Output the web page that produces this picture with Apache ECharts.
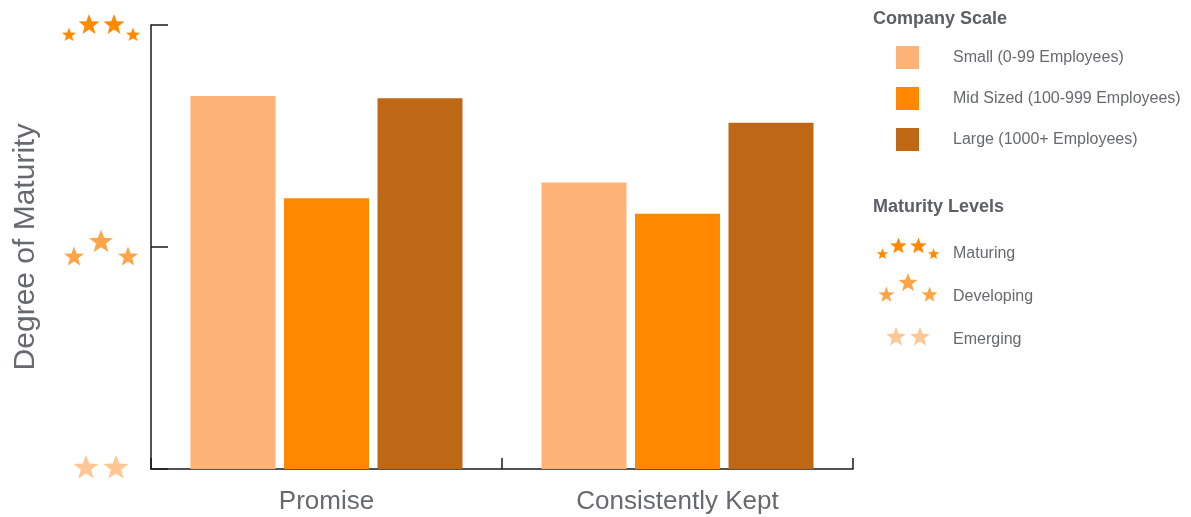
<!DOCTYPE html>
<html>
<head>
<meta charset="utf-8">
<style>
  html, body { margin: 0; padding: 0; background: #ffffff; }
  #chart { width: 1191px; height: 517px; }
</style>
<script src="https://cdn.jsdelivr.net/npm/echarts@6/dist/echarts.min.js"></script>
</head>
<body>
<div id="chart"></div>
<script>
// Categories along the x axis
const categories = ['Promise', 'Consistently Kept'];

// Company scale series (degree of maturity: 0 = Emerging, 1 = Developing, 2 = Maturing)
const seriesNames = ['Small (0-99 Employees)', 'Mid Sized (100-999 Employees)', 'Large (1000+ Employees)'];
const smallValues = [1.68, 1.29];
const midValues = [1.22, 1.15];
const largeValues = [1.67, 1.56];

// Maturity levels shown on the y axis
const levelNames = ['Emerging', 'Developing', 'Maturing'];
const levelValues = [0, 1, 2];

const barColors = ['#FDB378', '#FF8800', '#BE6816'];
const starColors = { Maturing: '#FF8A00', Developing: '#FFA447', Emerging: '#FFC793' };
const textColor = '#66696e';
const titleColor = '#5c6066';
const fontFamily = '"Liberation Sans", Arial, Helvetica, sans-serif';

// Star shapes for each level: [dx, dy, radius] around an anchor point
const starLayouts = {
  Maturing:   [[-32, 9, 7.5], [-12, -1, 11], [13, -1, 11], [32, 9, 7.5]],
  Developing: [[-27, 10, 10.5], [0, -5, 12.5], [27, 10, 10.5]],
  Emerging:   [[-15, -1, 13], [15, -1, 13]]
};

function starPoints(cx, cy, r) {
  const pts = [];
  const inner = r * 0.42;
  for (let i = 0; i < 10; i++) {
    const rad = i % 2 === 0 ? r : inner;
    const a = -Math.PI / 2 + i * Math.PI / 5;
    pts.push([cx + rad * Math.cos(a), cy + rad * Math.sin(a)]);
  }
  return pts;
}

function starGroup(level, cx, cy, scale) {
  return starLayouts[level].map(([dx, dy, r]) => ({
    type: 'polygon',
    silent: true,
    shape: { points: starPoints(cx + dx * scale, cy + dy * scale, r * scale) },
    style: { fill: starColors[level] }
  }));
}

const chart = echarts.init(document.getElementById('chart'), null, { renderer: 'canvas' });

const axisColor = '#1a1a1a';

const option = {
  animation: false,
  backgroundColor: '#ffffff',
  textStyle: { fontFamily: fontFamily },
  grid: { left: 151, right: 338, top: 25, bottom: 48, containLabel: false, outerBoundsMode: 'none' },
  legend: {
    orient: 'vertical',
    left: 896,
    top: 46,
    padding: 0,
    itemWidth: 23,
    itemHeight: 23,
    itemGap: 18,
    icon: 'rect',
    selectedMode: false,
    data: seriesNames,
    textStyle: { color: textColor, fontSize: 16, fontFamily: fontFamily, padding: [0, 0, 0, 29] }
  },
  xAxis: {
    type: 'category',
    data: categories,
    axisLine: { lineStyle: { color: axisColor, width: 1.5 } },
    axisTick: { show: true, interval: 0, inside: true, length: 11, lineStyle: { color: axisColor, width: 1.5 } },
    axisLabel: { color: textColor, fontSize: 26, margin: 20, fontFamily: fontFamily }
  },
  yAxis: {
    type: 'value',
    min: 0,
    max: 2,
    interval: 1,
    name: 'Degree of Maturity',
    nameLocation: 'middle',
    nameGap: 110,
    nameRotate: 90,
    nameTextStyle: { color: textColor, fontSize: 30, fontFamily: fontFamily },
    axisLine: { show: true, lineStyle: { color: axisColor, width: 1.5 } },
    axisTick: { show: true, inside: true, length: 17, lineStyle: { color: axisColor, width: 1.5 } },
    axisLabel: { show: false },
    splitLine: { show: false }
  },
  series: [
    { name: seriesNames[0], type: 'bar', data: smallValues, barWidth: 85, barGap: '10%', itemStyle: { color: barColors[0] } },
    { name: seriesNames[1], type: 'bar', data: midValues, barWidth: 85, barGap: '10%', itemStyle: { color: barColors[1] } },
    { name: seriesNames[2], type: 'bar', data: largeValues, barWidth: 85, barGap: '10%', itemStyle: { color: barColors[2] } }
  ]
};

chart.setOption(option);

// Star labels at each y-axis tick, positioned through the axis scale
const graphics = [];
const axisStarOffset = { Maturing: 1, Developing: 0, Emerging: 0 };
levelNames.forEach((level, i) => {
  const y = chart.convertToPixel({ yAxisIndex: 0 }, levelValues[i]) + axisStarOffset[level];
  starGroup(level, 101, y, 1).forEach(g => graphics.push(g));
});

// Legend titles
graphics.push({
  type: 'text', left: 873, top: 10, silent: true,
  style: { text: 'Company Scale', fill: titleColor, font: 'bold 18px ' + fontFamily }
});
graphics.push({
  type: 'text', left: 873, top: 198, silent: true,
  style: { text: 'Maturity Levels', fill: titleColor, font: 'bold 18px ' + fontFamily }
});

// Maturity level legend entries: [level, text centre y, star anchor x, star anchor y]
const levelLegendRows = [
  ['Maturing', 253, 908, 247],
  ['Developing', 296, 908, 287],
  ['Emerging', 339, 908, 338]
];
levelLegendRows.forEach(([level, y, cx, cy]) => {
  starGroup(level, cx, cy, 0.8).forEach(g => graphics.push(g));
  graphics.push({
    type: 'text', left: 953, top: y - 7, silent: true,
    style: { text: level, fill: textColor, font: '16px ' + fontFamily }
  });
});

chart.setOption({ graphic: graphics });
</script>
</body>
</html>
